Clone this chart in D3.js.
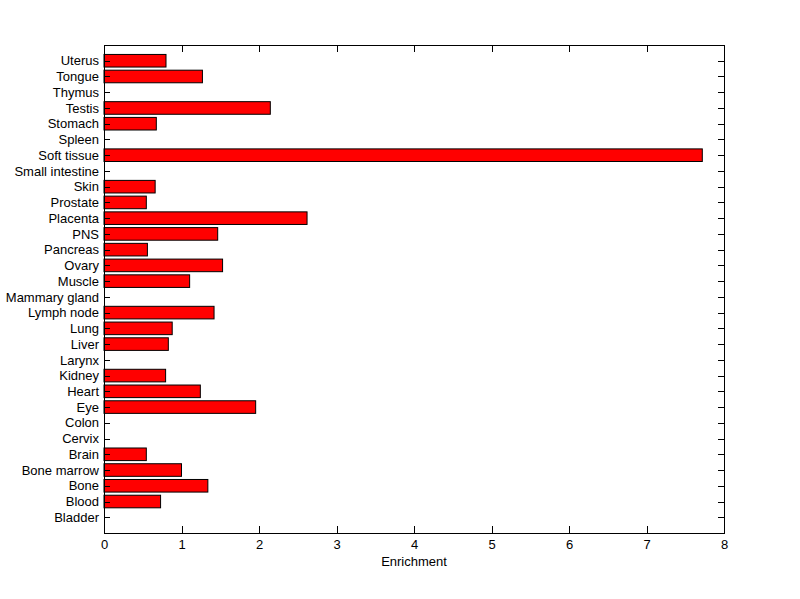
<!DOCTYPE html>
<html><head><meta charset="utf-8">
<script src="https://cdn.jsdelivr.net/npm/d3@7"></script>
<style>body{margin:0;background:#fff}svg{display:block}text{font-family:"Liberation Sans",Arial,sans-serif;font-size:13px;fill:#000}</style>
</head><body>
<script>
const categories = ["Bladder","Blood","Bone","Bone marrow","Brain","Cervix","Colon","Eye","Heart","Kidney","Larynx","Liver","Lung","Lymph node","Mammary gland","Muscle","Ovary","Pancreas","PNS","Placenta","Prostate","Skin","Small intestine","Soft tissue","Spleen","Stomach","Testis","Thymus","Tongue","Uterus"];
const values = [0,0.73,1.34,1.0,0.546,0,0,1.957,1.243,0.795,0,0.83,0.88,1.42,0,1.105,1.53,0.56,1.467,2.62,0.546,0.66,0,7.72,0,0.675,2.146,0,1.27,0.80];
const xTicks = [0,1,2,3,4,5,6,7,8];
const xLabel = "Enrichment";

const W = 800, H = 599;
const L = 104, R = 724, T = 45, B = 533;
const svg = d3.select("body").append("svg").attr("width", W).attr("height", H);
const x = d3.scaleLinear().domain([0, 8]).range([L, R]);
const y = d3.scaleLinear().domain([0, categories.length + 1]).range([B, T]);
const bw = 0.8;

svg.append("rect").attr("x", 0).attr("y", 0).attr("width", W).attr("height", H).attr("fill", "#fff");

const barData = values.map((v, i) => ({ v, pos: i + 1 })).filter(d => d.v > 0);

svg.append("g").selectAll("rect").data(barData).join("rect")
  .attr("x", x(0))
  .attr("y", d => y(d.pos + bw / 2))
  .attr("width", d => x(d.v) - x(0))
  .attr("height", d => y(d.pos - bw / 2) - y(d.pos + bw / 2))
  .attr("fill", "#ff0000").attr("stroke", "#000").attr("stroke-width", 1);

const ticksY = categories.map((c, i) => i + 1);
svg.append("g").attr("transform", `translate(0,${B})`)
  .call(d3.axisBottom(x).tickValues(xTicks).tickFormat(d3.format("d")).tickSizeInner(-7).tickSizeOuter(0).tickPadding(7));
svg.append("g").attr("transform", `translate(0,${T})`)
  .call(d3.axisTop(x).tickValues(xTicks).tickFormat("").tickSizeInner(-7).tickSizeOuter(0));
svg.append("g").attr("transform", `translate(${L},0)`)
  .call(d3.axisLeft(y).tickValues(ticksY).tickFormat(d => categories[d - 1]).tickSizeInner(-6).tickSizeOuter(0).tickPadding(5));
svg.append("g").attr("transform", `translate(${R},0)`)
  .call(d3.axisRight(y).tickValues(ticksY).tickFormat("").tickSizeInner(-6).tickSizeOuter(0));

svg.selectAll(".domain").remove();
svg.selectAll(".tick line").attr("stroke", "#000").attr("shape-rendering", "crispEdges");
svg.selectAll(".tick text").style("font-family", '"Liberation Sans",Arial,sans-serif').style("font-size", "13px").attr("fill", "#000");
svg.append("rect").attr("x", L).attr("y", T).attr("width", R - L).attr("height", B - T)
  .attr("fill", "none").attr("stroke", "#000").attr("shape-rendering", "crispEdges");

svg.append("text").attr("x", (L + R) / 2).attr("y", 566).attr("text-anchor", "middle").text(xLabel);
</script>
</body></html>
